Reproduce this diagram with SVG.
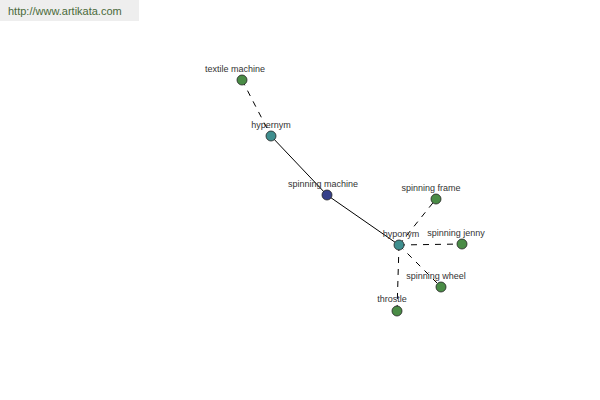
<svg xmlns="http://www.w3.org/2000/svg" width="600" height="400" viewBox="0 0 600 400">
<style>
.lbl{font-family:"Liberation Sans",Arial,sans-serif;font-size:9px;fill:#333;text-anchor:middle}
.e{stroke:#000;stroke-width:1;fill:none}
.d{stroke-dasharray:6,6}
.n{stroke:#222;stroke-width:0.8}
.g{fill:#4a8c46}
.t{fill:#3f8f8f}
.b{fill:#36408a}
</style>
<rect width="600" height="400" fill="#fff"/>
<rect x="0" y="0" width="139" height="21" fill="#eeeeee"/>
<text x="8" y="15" style="font-family:'Liberation Sans',Arial,sans-serif;font-size:11px;fill:#4a6a3a">http://www.artikata.com</text>
<g id="connectors">
<line class="e d" x1="242" y1="80" x2="271" y2="136"/>
<line class="e" x1="271" y1="136" x2="327" y2="195"/>
<line class="e" x1="327" y1="195" x2="399" y2="245"/>
<line class="e d" x1="399" y1="245" x2="436" y2="199"/>
<line class="e d" x1="399" y1="245" x2="462" y2="244"/>
<line class="e d" x1="399" y1="245" x2="441" y2="287"/>
<line class="e d" x1="399" y1="245" x2="397" y2="311"/>
</g>
<g id="textile-machine"><circle class="n g" cx="242" cy="80" r="5"/><text class="lbl" x="235" y="72">textile machine</text></g>
<g id="hypernym"><circle class="n t" cx="271" cy="136" r="5"/><text class="lbl" x="271" y="128">hypernym</text></g>
<g id="spinning-machine"><circle class="n b" cx="327" cy="195" r="5"/><text class="lbl" x="323" y="187">spinning machine</text></g>
<g id="hyponym"><circle class="n t" cx="399" cy="245" r="5"/><text class="lbl" x="401" y="237">hyponym</text></g>
<g id="spinning-frame"><circle class="n g" cx="436" cy="199" r="5"/><text class="lbl" x="431" y="191">spinning frame</text></g>
<g id="spinning-jenny"><circle class="n g" cx="462" cy="244" r="5"/><text class="lbl" x="456" y="236">spinning jenny</text></g>
<g id="spinning-wheel"><circle class="n g" cx="441" cy="287" r="5"/><text class="lbl" x="436" y="279">spinning wheel</text></g>
<g id="throstle"><circle class="n g" cx="397" cy="311" r="5"/><text class="lbl" x="392" y="302">throstle</text></g>
</svg>
